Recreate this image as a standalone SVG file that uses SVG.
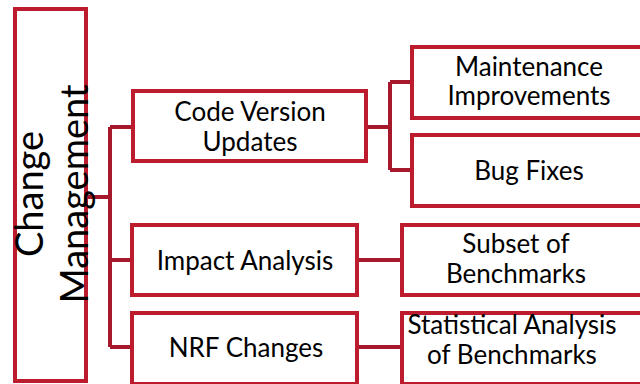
<svg xmlns="http://www.w3.org/2000/svg" width="640" height="384" viewBox="0 0 640 384">
<style>
.box{fill:#fff;stroke:#BD1C2F;stroke-width:4;}
.con{fill:none;stroke:#A6192C;stroke-width:4;stroke-linejoin:miter;}
.t{font-family:Lato,"Open Sans","Liberation Sans",sans-serif;font-size:26px;fill:#000;text-anchor:middle;}
.r{font-family:Lato,"Open Sans","Liberation Sans",sans-serif;font-size:38px;fill:#000;text-anchor:middle;}
</style>
<rect width="640" height="384" fill="#fff"/>
<g id="connectors">
<path class="con" d="M88 197H110M110 127V347M110 127H131M110 260H130M110 347H130"/>
<path class="con" d="M368 127H390M390 82V170M390 82H410M390 170H410"/>
<path class="con" d="M359 260H400M359 347H400"/>
</g>
<g id="root">
<rect class="box" x="15" y="9" width="71" height="372"/>
<text class="r" transform="translate(43 194) rotate(-90)" x="0" y="0">Change</text>
<text class="r" transform="translate(88 194) rotate(-90)" x="0" y="0">Management</text>
</g>
<g id="code">
<rect class="box" x="133" y="91" width="233" height="70"/>
<text class="t" x="250" y="121">Code Version</text>
<text class="t" x="250" y="151">Updates</text>
</g>
<g id="impact">
<rect class="box" x="132" y="225" width="225" height="70"/>
<text class="t" x="245" y="270">Impact Analysis</text>
</g>
<g id="nrf">
<rect class="box" x="132" y="313" width="225" height="71"/>
<text class="t" x="246" y="357">NRF Changes</text>
</g>
<g id="maint">
<rect class="box" x="412" y="47" width="250" height="71"/>
<text class="t" x="529" y="76">Maintenance</text>
<text class="t" x="529" y="105">Improvements</text>
</g>
<g id="bug">
<rect class="box" x="412" y="135" width="250" height="71"/>
<text class="t" x="529" y="180">Bug Fixes</text>
</g>
<g id="subset">
<rect class="box" x="402" y="225" width="260" height="70"/>
<text class="t" x="516" y="253">Subset of</text>
<text class="t" x="516" y="283">Benchmarks</text>
</g>
<g id="stat">
<rect class="box" x="402" y="313" width="260" height="71"/>
<text class="t" x="512" y="334">Statistical Analysis</text>
<text class="t" x="512" y="364">of Benchmarks</text>
</g>
</svg>
